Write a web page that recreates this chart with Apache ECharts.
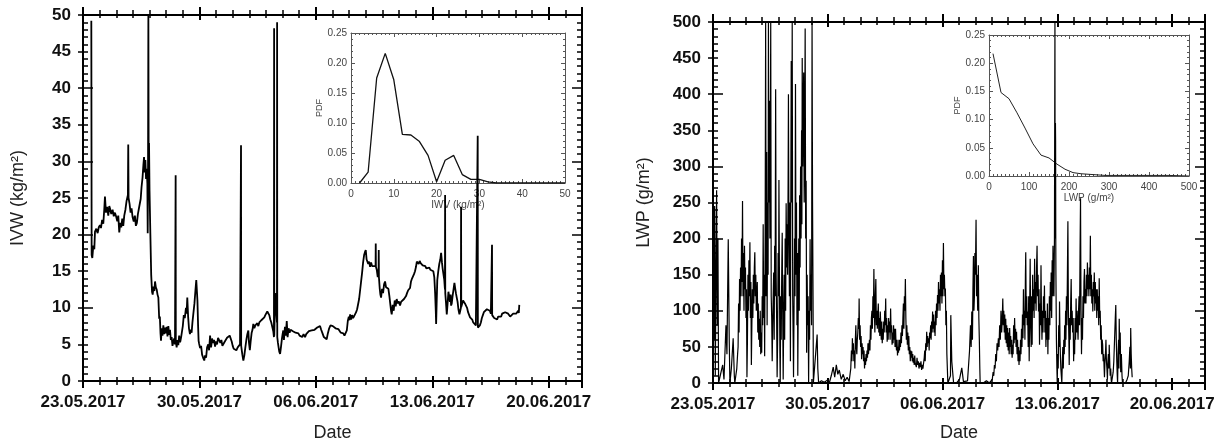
<!DOCTYPE html>
<html>
<head>
<meta charset="utf-8">
<script src="https://cdn.jsdelivr.net/npm/echarts@6/dist/echarts.min.js"></script>
<style>
  html, body { margin: 0; padding: 0; background: #fff; }
  #chart { width: 1221px; height: 447px; }
</style>
</head>
<body>
<div id="chart"></div>
<script>
// Time axis: days since 23.05.2017 00:00; weekly labels
const tickLabels = ['23.05.2017', '30.05.2017', '06.06.2017', '13.06.2017', '20.06.2017'];

// Integrated water vapour time series [day, kg/m²]
const iwvSeries = [
  [0.50, 49.2], [0.52, 17.2], [0.56, 16.8], [0.62, 18.5], [0.68, 18.0], [0.72, 20.4], [0.80, 20.8], [0.88, 20.2],
  [0.95, 21.0], [1.02, 21.3], [1.08, 20.9], [1.15, 22.0], [1.22, 21.5], [1.28, 23.5], [1.32, 25.2], [1.38, 23.0],
  [1.45, 23.8], [1.52, 22.6], [1.58, 23.9], [1.62, 23.6], [1.70, 22.8], [1.78, 23.4], [1.85, 22.5], [1.92, 23.0],
  [2.00, 22.4], [2.06, 21.8], [2.12, 22.6], [2.18, 20.3], [2.24, 21.6], [2.30, 21.0], [2.36, 22.2], [2.42, 21.2],
  [2.48, 22.6], [2.55, 23.4], [2.62, 24.6], [2.70, 25.4], [2.72, 32.3], [2.74, 25.0], [2.80, 24.2], [2.86, 23.0],
  [2.92, 23.6], [2.98, 22.4], [3.05, 21.8], [3.12, 22.6], [3.18, 21.2], [3.24, 21.6], [3.30, 22.8], [3.38, 23.8],
  [3.47, 24.9], [3.52, 26.5], [3.58, 27.8], [3.63, 29.5], [3.67, 30.6], [3.71, 28.5], [3.75, 30.2], [3.79, 27.6],
  [3.83, 29.0], [3.87, 27.0], [3.89, 20.2], [3.91, 28.5], [3.93, 50.0], [3.95, 27.2], [3.97, 32.5], [4.00, 26.0],
  [4.05, 20.0], [4.10, 14.5], [4.15, 12.2], [4.19, 11.8], [4.24, 12.9], [4.29, 12.3], [4.33, 13.6], [4.38, 12.8],
  [4.43, 12.5], [4.48, 11.8], [4.53, 11.4], [4.58, 8.5], [4.62, 8.8], [4.66, 6.5], [4.69, 5.5], [4.73, 7.2],
  [4.78, 6.2], [4.83, 7.6], [4.88, 6.4], [4.93, 7.3], [4.98, 6.5], [5.03, 7.4], [5.08, 6.1], [5.13, 7.5],
  [5.18, 6.3], [5.23, 7.0], [5.28, 5.6], [5.33, 6.0], [5.38, 4.8], [5.43, 4.6], [5.48, 5.8], [5.53, 5.0],
  [5.56, 5.2], [5.57, 28.1], [5.58, 5.4], [5.63, 4.6], [5.68, 5.6], [5.73, 4.9], [5.78, 6.2], [5.84, 5.3],
  [5.90, 6.0], [5.94, 6.0], [6.00, 7.5], [6.06, 9.0], [6.12, 8.6], [6.19, 10.0], [6.23, 9.2], [6.27, 11.4],
  [6.32, 8.8], [6.37, 7.2], [6.43, 6.4], [6.48, 7.0], [6.53, 6.6], [6.58, 8.0], [6.63, 9.1], [6.70, 10.6],
  [6.76, 12.4], [6.81, 13.8], [6.84, 13.6], [6.88, 11.0], [6.92, 7.5], [6.95, 5.5], [6.98, 5.1], [7.04, 4.5],
  [7.10, 4.8], [7.16, 3.6], [7.22, 3.2], [7.29, 2.8], [7.34, 3.5], [7.40, 3.2], [7.46, 4.6], [7.53, 5.0],
  [7.58, 4.2], [7.64, 6.2], [7.70, 4.6], [7.76, 5.8], [7.82, 5.2], [7.88, 5.6], [7.94, 4.7], [8.00, 5.4],
  [8.06, 5.0], [8.12, 5.9], [8.20, 6.0], [8.26, 5.2], [8.32, 5.6], [8.38, 4.8], [8.44, 4.6], [8.50, 5.3],
  [8.58, 5.6], [8.66, 5.9], [8.74, 6.1], [8.82, 6.2], [8.88, 6.0], [8.94, 5.4], [9.00, 4.8], [9.06, 4.4],
  [9.14, 4.4], [9.22, 4.2], [9.30, 4.6], [9.38, 4.8], [9.44, 5.0], [9.49, 4.9], [9.50, 32.2], [9.51, 4.8],
  [9.58, 3.6], [9.64, 2.8], [9.70, 3.5], [9.76, 4.6], [9.82, 5.6], [9.88, 6.4], [9.94, 6.9], [9.98, 5.2],
  [10.03, 4.2], [10.08, 5.4], [10.14, 6.6], [10.19, 7.0], [10.24, 7.8], [10.30, 7.2], [10.36, 7.6], [10.42, 7.5],
  [10.48, 7.9], [10.54, 7.5], [10.60, 8.0], [10.66, 7.8], [10.72, 8.3], [10.78, 8.1], [10.84, 8.4], [10.90, 8.7],
  [10.96, 9.0], [11.02, 9.2], [11.08, 9.5], [11.14, 9.6], [11.20, 9.0], [11.26, 8.4], [11.32, 8.0], [11.38, 7.8],
  [11.44, 6.8], [11.48, 6.0], [11.49, 48.2], [11.50, 6.2], [11.55, 12.0], [11.62, 11.8], [11.66, 8.0], [11.67, 49.0],
  [11.68, 6.0], [11.72, 5.2], [11.76, 4.6], [11.80, 4.0], [11.85, 3.7], [11.90, 4.6], [11.96, 5.8], [12.00, 6.4],
  [12.04, 6.9], [12.08, 5.6], [12.14, 7.4], [12.19, 6.2], [12.25, 8.2], [12.30, 6.0], [12.36, 7.2], [12.42, 6.6],
  [12.48, 7.0], [12.55, 6.9], [12.62, 6.8], [12.70, 7.0], [12.78, 6.6], [12.86, 6.8], [12.95, 6.5], [13.02, 6.2],
  [13.10, 6.3], [13.18, 6.0], [13.26, 6.4], [13.35, 6.0], [13.42, 6.4], [13.50, 6.6], [13.58, 6.8], [13.66, 6.7],
  [13.75, 6.9], [13.84, 6.8], [13.92, 7.0], [14.00, 7.2], [14.08, 7.3], [14.16, 7.2], [14.25, 7.5], [14.32, 7.0],
  [14.40, 6.5], [14.48, 6.0], [14.56, 5.8], [14.65, 5.7], [14.72, 6.5], [14.80, 7.2], [14.88, 7.6], [14.95, 7.8],
  [15.02, 7.5], [15.10, 7.6], [15.18, 7.2], [15.26, 7.4], [15.35, 7.1], [15.42, 6.9], [15.50, 6.6], [15.58, 6.4],
  [15.65, 6.5], [15.72, 6.2], [15.80, 6.6], [15.86, 6.9], [15.92, 8.2], [15.98, 8.8], [16.02, 8.3], [16.06, 9.1],
  [16.12, 8.4], [16.18, 9.0], [16.24, 8.6], [16.30, 8.8], [16.36, 8.7], [16.42, 9.4], [16.48, 9.8], [16.55, 10.0],
  [16.60, 11.2], [16.66, 12.4], [16.72, 13.6], [16.78, 14.8], [16.84, 16.2], [16.90, 17.2], [16.95, 17.6], [17.00, 17.9],
  [17.05, 16.6], [17.10, 16.8], [17.15, 16.0], [17.20, 16.3], [17.26, 15.6], [17.32, 16.2], [17.38, 15.7], [17.44, 15.9],
  [17.50, 15.8], [17.59, 15.7], [17.60, 18.8], [17.61, 15.6], [17.66, 15.2], [17.72, 14.2], [17.77, 14.6], [17.78, 17.9],
  [17.79, 14.2], [17.84, 12.6], [17.88, 11.8], [17.92, 11.4], [17.98, 12.6], [18.04, 12.0], [18.10, 13.2], [18.16, 13.6],
  [18.22, 12.8], [18.28, 13.0], [18.36, 12.6], [18.42, 11.6], [18.48, 10.4], [18.52, 9.6], [18.56, 9.1], [18.62, 10.4],
  [18.68, 9.6], [18.74, 11.0], [18.80, 10.2], [18.86, 11.2], [18.92, 10.6], [18.98, 10.9], [19.06, 10.3], [19.12, 10.8],
  [19.18, 11.0], [19.24, 10.8], [19.30, 11.2], [19.36, 11.4], [19.42, 11.6], [19.48, 12.0], [19.55, 12.4], [19.60, 12.2],
  [19.66, 12.7], [19.72, 13.6], [19.78, 14.0], [19.84, 14.3], [19.90, 14.6], [19.96, 15.0], [20.02, 15.6], [20.07, 16.3],
  [20.12, 16.5], [20.18, 16.0], [20.24, 16.4], [20.30, 16.1], [20.36, 16.0], [20.42, 15.8], [20.46, 15.9], [20.52, 15.6],
  [20.58, 15.7], [20.64, 15.4], [20.70, 15.6], [20.76, 15.3], [20.82, 15.5], [20.88, 15.2], [20.94, 15.3], [21.00, 15.0],
  [21.06, 15.0], [21.12, 14.2], [21.17, 12.0], [21.21, 9.5], [21.23, 7.8], [21.26, 10.5], [21.30, 13.8], [21.36, 15.0],
  [21.42, 16.0], [21.48, 16.6], [21.53, 17.5], [21.58, 16.2], [21.62, 15.4], [21.67, 14.6], [21.72, 13.8], [21.76, 12.5],
  [21.77, 25.4], [21.78, 12.0], [21.82, 10.8], [21.87, 9.1], [21.92, 10.6], [21.97, 12.2], [22.01, 12.0], [22.06, 10.8],
  [22.10, 11.8], [22.13, 10.3], [22.17, 10.6], [22.22, 11.6], [22.27, 12.4], [22.33, 13.4], [22.38, 12.6], [22.42, 12.0],
  [22.47, 11.4], [22.52, 10.8], [22.57, 9.8], [22.63, 9.1], [22.68, 9.6], [22.72, 10.0], [22.73, 23.8], [22.74, 10.1],
  [22.79, 10.3], [22.85, 11.0], [22.90, 11.2], [22.96, 10.6], [23.03, 10.8], [23.09, 10.0], [23.15, 9.4], [23.21, 9.2],
  [23.27, 8.7], [23.33, 8.8], [23.40, 8.4], [23.46, 8.0], [23.52, 7.9], [23.57, 7.8], [23.62, 7.6], [23.68, 7.4],
  [23.72, 7.5], [23.73, 33.5], [23.74, 7.3], [23.80, 7.2], [23.86, 7.6], [23.92, 8.0], [23.98, 8.6], [24.04, 9.0],
  [24.10, 9.4], [24.16, 9.3], [24.22, 9.6], [24.28, 9.8], [24.34, 9.6], [24.40, 9.8], [24.46, 9.6], [24.52, 9.2],
  [24.58, 9.0], [24.59, 18.6], [24.60, 9.0], [24.66, 8.8], [24.72, 8.6], [24.78, 8.4], [24.84, 8.6], [24.90, 8.4],
  [24.96, 8.8], [25.02, 8.6], [25.08, 9.0], [25.14, 8.8], [25.20, 9.2], [25.26, 9.4], [25.32, 9.2], [25.38, 9.4],
  [25.44, 9.6], [25.50, 9.4], [25.56, 9.2], [25.62, 9.0], [25.68, 8.8], [25.74, 8.9], [25.80, 9.0], [25.86, 9.2],
  [25.92, 9.0], [25.98, 9.4], [26.04, 9.2], [26.10, 9.4], [26.16, 9.6], [26.20, 9.3], [26.23, 10.4]
];

// Liquid water path time series [day, g/m²]
const lwpSeries = [
  [0.02, 230], [0.06, 60], [0.10, 245], [0.14, 10], [0.18, 150], [0.22, 267], [0.26, 80], [0.30, 200], [0.34, 0],
  [0.42, 0], [0.59, 25], [0.67, 5], [0.79, 80], [0.85, 40], [0.93, 199], [0.99, 60], [1.03, 0], [1.12, 20],
  [1.23, 62], [1.30, 10], [1.33, 0], [1.45, 20],
  [1.50, 40], [1.53, 50], [1.56, 110], [1.59, 70], [1.62, 144], [1.65, 100], [1.68, 160], [1.71, 120], [1.74, 200],
  [1.77, 140], [1.80, 252], [1.83, 120], [1.86, 180], [1.89, 100], [1.92, 190], [1.95, 130], [1.98, 160], [2.01, 90],
  [2.04, 130], [2.07, 8], [2.10, 60], [2.13, 150], [2.16, 100], [2.19, 170], [2.22, 120], [2.25, 195], [2.28, 90],
  [2.31, 140], [2.34, 25], [2.37, 80], [2.40, 130], [2.43, 90], [2.46, 150], [2.49, 110], [2.52, 160], [2.55, 181],
  [2.58, 120], [2.61, 150], [2.64, 100], [2.67, 112], [2.70, 140], [2.73, 70], [2.76, 110], [2.79, 60], [2.82, 89],
  [2.85, 50], [2.88, 100], [2.91, 40], [2.94, 70], [2.97, 42], [3.00, 120], [3.03, 80], [3.06, 220], [3.09, 90],
  [3.12, 150], [3.15, 37], [3.18, 200], [3.21, 500], [3.24, 120], [3.27, 320], [3.30, 80], [3.33, 250], [3.36, 150],
  [3.38, 500], [3.41, 250], [3.44, 391], [3.47, 200], [3.50, 350], [3.52, 500], [3.55, 120], [3.58, 90], [3.61, 30],
  [3.64, 80], [3.67, 120], [3.70, 153], [3.73, 60], [3.76, 190], [3.79, 120], [3.82, 407], [3.85, 150], [3.88, 90],
  [3.91, 8], [3.94, 60], [3.97, 180], [4.00, 120], [4.02, 281], [4.05, 150], [4.08, 40], [4.10, 0], [4.13, 120],
  [4.16, 60], [4.19, 150], [4.22, 208], [4.25, 100], [4.28, 5], [4.31, 90], [4.34, 150], [4.37, 60], [4.40, 200],
  [4.43, 100], [4.46, 249], [4.49, 160], [4.52, 220], [4.55, 150], [4.58, 280], [4.60, 400], [4.63, 200], [4.66, 120],
  [4.69, 250], [4.72, 30], [4.75, 300], [4.77, 446], [4.80, 250], [4.83, 500], [4.86, 120], [4.89, 60], [4.91, 8],
  [4.94, 100], [4.97, 200], [5.00, 120], [5.03, 414], [5.06, 150], [5.09, 250], [5.12, 80], [5.15, 180], [5.17, 10],
  [5.20, 120], [5.23, 200], [5.26, 100], [5.28, 260], [5.31, 160], [5.34, 300], [5.37, 200], [5.40, 350], [5.42, 220],
  [5.44, 450], [5.47, 300], [5.50, 380], [5.53, 430], [5.56, 250], [5.59, 330], [5.62, 491], [5.65, 200], [5.68, 280],
  [5.71, 42], [5.74, 150], [5.77, 80], [5.80, 120], [5.83, 0], [5.86, 100], [5.89, 60], [5.92, 199], [5.95, 100],
  [5.98, 150], [6.01, 80], [6.04, 500], [6.07, 250], [6.10, 120], [6.12, 0],
  [6.24, 0], [6.35, 67], [6.39, 20], [6.44, 0], [6.61, 3], [6.79, 1], [6.97, 4], [7.09, 0],
  [7.21, 10], [7.33, 22], [7.42, 8], [7.52, 25], [7.61, 12], [7.70, 18], [7.82, 5], [7.94, 12], [8.06, 3],
  [8.18, 8], [8.30, 2],
  [8.40, 20], [8.44, 45], [8.47, 30], [8.50, 62], [8.53, 40], [8.56, 55], [8.59, 30], [8.62, 45], [8.65, 20],
  [8.68, 60], [8.71, 80], [8.74, 50], [8.77, 40], [8.80, 60], [8.83, 70], [8.86, 90], [8.89, 75], [8.91, 117],
  [8.94, 60], [8.97, 80], [9.00, 50], [9.03, 65], [9.06, 33], [9.09, 55], [9.12, 40], [9.15, 50], [9.18, 30],
  [9.21, 45], [9.24, 20], [9.27, 35], [9.30, 25], [9.33, 40], [9.36, 30], [9.39, 45], [9.42, 35], [9.45, 55],
  [9.48, 40], [9.51, 38], [9.54, 60], [9.57, 45], [9.60, 80], [9.63, 60], [9.66, 90], [9.69, 100], [9.72, 75],
  [9.75, 120], [9.78, 90], [9.81, 158], [9.84, 100], [9.87, 70], [9.90, 120], [9.93, 144], [9.96, 80], [9.99, 100],
  [10.02, 75], [10.05, 95], [10.08, 110], [10.11, 70], [10.14, 90], [10.17, 65], [10.20, 99], [10.23, 80], [10.26, 60],
  [10.29, 85], [10.32, 55], [10.35, 75], [10.38, 60], [10.41, 85], [10.44, 70], [10.47, 100], [10.50, 80], [10.53, 117],
  [10.56, 70], [10.59, 90], [10.62, 57], [10.65, 80], [10.68, 60], [10.71, 90], [10.74, 70], [10.77, 85], [10.80, 60],
  [10.83, 103], [10.86, 70], [10.89, 80], [10.92, 53], [10.95, 70], [10.98, 55], [11.01, 80], [11.04, 60], [11.07, 75],
  [11.10, 50], [11.13, 75], [11.16, 55], [11.19, 45], [11.22, 60], [11.25, 38], [11.28, 50], [11.31, 42], [11.34, 60],
  [11.37, 45], [11.40, 60], [11.43, 50], [11.46, 70], [11.49, 55], [11.52, 80], [11.55, 65], [11.58, 90], [11.61, 110],
  [11.64, 75], [11.67, 120], [11.70, 100], [11.73, 144], [11.76, 90], [11.79, 60], [11.82, 80], [11.85, 53], [11.88, 70],
  [11.91, 45], [11.94, 65], [11.97, 40], [12.00, 50], [12.03, 30], [12.06, 45], [12.09, 35], [12.12, 44], [12.15, 30],
  [12.18, 40], [12.21, 28], [12.24, 35], [12.27, 25], [12.30, 38], [12.33, 28], [12.36, 30], [12.40, 22], [12.44, 35],
  [12.48, 25], [12.52, 30], [12.56, 20], [12.60, 28], [12.64, 22], [12.68, 30], [12.72, 18], [12.76, 25], [12.80, 20],
  [12.84, 21], [12.88, 35], [12.91, 45], [12.94, 30], [12.97, 55], [13.00, 45], [13.03, 71], [13.06, 50], [13.09, 65],
  [13.12, 55], [13.15, 62], [13.18, 45], [13.21, 70], [13.24, 62], [13.27, 80], [13.30, 60], [13.33, 85], [13.36, 70],
  [13.39, 99], [13.42, 75], [13.45, 95], [13.48, 70], [13.51, 85], [13.54, 65], [13.57, 100], [13.60, 80], [13.63, 110],
  [13.66, 90], [13.69, 122], [13.72, 100], [13.75, 140], [13.78, 110], [13.81, 130], [13.84, 100], [13.87, 150], [13.90, 120],
  [13.93, 153], [13.96, 110], [13.99, 170], [14.02, 120], [14.05, 194], [14.08, 130], [14.11, 150], [14.14, 120], [14.17, 131],
  [14.20, 80], [14.23, 100], [14.26, 40], [14.29, 20], [14.32, 0],
  [14.40, 0], [14.48, 10], [14.50, 94], [14.56, 30], [14.67, 0], [14.85, 0], [15.03, 5], [15.17, 21], [15.27, 2],
  [15.39, 0], [15.52, 3],
  [15.64, 44], [15.70, 80], [15.74, 50], [15.78, 99], [15.82, 60], [15.85, 130], [15.88, 176], [15.91, 100], [15.94, 120],
  [15.97, 180], [16.00, 150], [16.04, 226], [16.07, 120], [16.10, 150], [16.14, 100], [16.18, 163], [16.21, 90], [16.24, 60],
  [16.27, 20], [16.29, 0],
  [16.48, 0], [16.67, 3], [16.85, 0],
  [17.03, 5], [17.08, 15], [17.12, 10], [17.16, 25], [17.20, 20], [17.24, 40], [17.28, 30], [17.32, 55], [17.36, 45],
  [17.40, 62], [17.44, 50], [17.48, 80], [17.52, 60], [17.56, 100], [17.60, 70], [17.64, 90], [17.67, 117], [17.70, 80],
  [17.73, 100], [17.76, 70], [17.79, 95], [17.82, 60], [17.85, 89], [17.88, 55], [17.91, 80], [17.94, 50], [17.97, 76],
  [18.00, 45], [18.03, 70], [18.06, 40], [18.09, 76], [18.12, 50], [18.15, 65], [18.18, 40], [18.21, 60], [18.24, 35],
  [18.27, 53], [18.30, 40], [18.33, 80], [18.36, 55], [18.39, 90], [18.42, 60], [18.45, 75], [18.48, 50], [18.51, 71],
  [18.54, 40], [18.57, 60], [18.60, 30], [18.63, 50], [18.66, 25], [18.69, 45], [18.72, 30], [18.75, 60], [18.78, 40],
  [18.81, 75], [18.84, 50], [18.87, 95], [18.90, 62], [18.93, 130], [18.96, 80], [18.99, 100], [19.02, 60], [19.05, 150],
  [19.07, 181], [19.10, 90], [19.13, 120], [19.16, 80], [19.19, 99], [19.22, 50], [19.25, 120], [19.28, 30], [19.31, 100],
  [19.34, 172], [19.37, 80], [19.40, 50], [19.43, 120], [19.46, 53], [19.49, 150], [19.52, 100], [19.55, 130], [19.58, 90],
  [19.61, 172], [19.64, 110], [19.67, 140], [19.70, 100], [19.73, 160], [19.76, 190], [19.79, 120], [19.82, 150], [19.85, 99],
  [19.88, 130], [19.91, 53], [19.94, 110], [19.97, 80], [20.00, 163], [20.03, 90], [20.06, 60], [20.09, 100], [20.12, 70],
  [20.15, 120], [20.18, 90], [20.21, 135], [20.24, 70], [20.27, 100], [20.30, 50], [20.33, 90], [20.36, 60], [20.39, 110],
  [20.42, 40], [20.45, 90], [20.48, 60], [20.51, 120], [20.54, 80], [20.57, 140], [20.60, 100], [20.62, 153], [20.65, 90],
  [20.68, 170], [20.71, 120], [20.73, 190], [20.76, 150], [20.79, 120], [20.82, 200], [20.85, 500], [20.86, 250], [20.87, 200],
  [20.88, 360], [20.89, 336], [20.90, 200], [20.91, 150], [20.94, 60], [20.97, 20], [20.99, 0], [21.02, 40], [21.05, 20],
  [21.08, 80], [21.11, 50], [21.13, 113], [21.16, 60], [21.18, 40], [21.21, 20], [21.24, 10], [21.27, 0], [21.30, 30],
  [21.33, 50], [21.36, 20], [21.39, 60], [21.42, 40], [21.44, 80], [21.47, 50], [21.50, 100], [21.52, 60], [21.55, 120],
  [21.58, 80], [21.61, 150], [21.64, 224], [21.67, 100], [21.70, 60], [21.72, 25], [21.75, 90], [21.78, 60], [21.81, 110],
  [21.84, 144], [21.87, 80], [21.90, 100], [21.93, 70], [21.96, 90], [21.99, 30], [22.02, 60], [22.05, 40], [22.08, 90],
  [22.11, 60], [22.14, 117], [22.17, 70], [22.20, 100], [22.23, 80], [22.26, 60], [22.29, 100], [22.32, 120], [22.35, 80],
  [22.38, 180], [22.41, 256], [22.44, 100], [22.47, 40], [22.50, 90], [22.53, 60], [22.56, 120], [22.59, 90], [22.62, 140],
  [22.65, 158], [22.68, 110], [22.71, 130], [22.74, 110], [22.77, 150], [22.80, 120], [22.83, 167], [22.86, 130], [22.89, 150],
  [22.92, 120], [22.95, 160], [22.98, 130], [23.01, 204], [23.04, 120], [23.07, 150], [23.10, 110], [23.13, 130], [23.16, 99],
  [23.19, 140], [23.22, 120], [23.25, 153], [23.28, 100], [23.31, 140], [23.34, 110], [23.37, 130], [23.40, 90], [23.43, 130],
  [23.46, 100], [23.49, 120], [23.52, 80], [23.55, 145], [23.58, 90], [23.61, 100], [23.64, 60], [23.67, 80], [23.70, 40],
  [23.73, 60], [23.76, 53], [23.79, 30], [23.82, 40], [23.85, 20], [23.87, 8], [23.90, 30], [23.93, 40], [23.96, 60],
  [23.99, 30], [24.02, 20], [24.05, 5], [24.08, 30], [24.11, 40], [24.14, 20], [24.16, 53], [24.19, 30], [24.22, 10],
  [24.25, 20], [24.28, 5], [24.30, 0], [24.35, 0], [24.40, 15], [24.44, 30], [24.47, 50], [24.50, 70], [24.53, 90],
  [24.56, 108], [24.59, 60], [24.62, 30], [24.65, 10], [24.67, 0], [24.70, 40], [24.73, 60], [24.75, 20], [24.77, 89],
  [24.80, 40], [24.83, 70], [24.86, 15], [24.90, 40], [24.94, 10], [24.97, 0], [25.05, 0], [25.15, 0], [25.25, 5],
  [25.32, 10], [25.38, 30], [25.42, 50], [25.45, 20], [25.47, 76], [25.50, 40], [25.53, 20], [25.56, 8]
];

// Probability density of IWV (bin centre, PDF)
const iwvPdfBins = [2, 4, 6, 8, 10, 12, 14, 16, 18, 20, 22, 24, 26, 28, 30, 32, 34, 36, 38, 40, 42, 44, 46, 48, 50];
const iwvPdf = [0.000, 0.018, 0.175, 0.216, 0.172, 0.081, 0.080, 0.069, 0.046, 0.002, 0.038, 0.046, 0.014, 0.006, 0.006, 0.002, 0.000, 0.000, 0.000, 0.000, 0.000, 0.000, 0.000, 0.000, 0.000];

// Probability density of LWP (bin centre, PDF)
const lwpPdfBins = [10, 30, 50, 70, 90, 110, 130, 150, 170, 190, 210, 230, 250, 270, 290, 310, 350, 400, 450, 500];
const lwpPdf = [0.217, 0.148, 0.137, 0.112, 0.085, 0.057, 0.037, 0.032, 0.021, 0.012, 0.006, 0.004, 0.003, 0.002, 0.001, 0.001, 0.001, 0.001, 0.001, 0.000];

const FONT = '"Liberation Sans", Arial, sans-serif';
const BLACK = '#000';

function dateLabel(v) {
  return v % 7 === 0 ? (tickLabels[v / 7] || '') : '';
}

// Eight overlapping x axes per panel: weekly/daily ticks, inside and outside, bottom and top
function dateAxes(g, nameGap) {
  const base = {
    gridIndex: g, type: 'value', min: 0, max: 30,
    splitLine: { show: false },
    axisLine: { show: false, onZero: false },
    axisLabel: { show: false }
  };
  const tick = (inside, length, width) => ({ show: true, inside, length, lineStyle: { color: BLACK, width } });
  return [
    Object.assign({}, base, {
      position: 'bottom', interval: 7,
      axisLine: { show: true, onZero: false, lineStyle: { color: BLACK, width: 2 } },
      axisTick: tick(true, 5, 2),
      axisLabel: { show: true, formatter: dateLabel, margin: 13, fontSize: 17, fontWeight: 'bold', color: '#111', fontFamily: FONT },
      name: 'Date', nameLocation: 'middle', nameGap,
      nameTextStyle: { fontSize: 18, color: '#222', fontFamily: FONT }
    }),
    Object.assign({}, base, { position: 'bottom', interval: 7, axisTick: tick(false, 7, 2) }),
    Object.assign({}, base, { position: 'bottom', interval: 1, axisTick: tick(true, 4, 1.5) }),
    Object.assign({}, base, { position: 'bottom', interval: 1, axisTick: tick(false, 4, 1.5) }),
    Object.assign({}, base, {
      position: 'top', interval: 7,
      axisLine: { show: true, onZero: false, lineStyle: { color: BLACK, width: 2 } },
      axisTick: tick(true, 5, 2)
    }),
    Object.assign({}, base, { position: 'top', interval: 7, axisTick: tick(false, 8, 2) }),
    Object.assign({}, base, { position: 'top', interval: 1, axisTick: tick(true, 3, 1.5) }),
    Object.assign({}, base, { position: 'top', interval: 1, axisTick: tick(false, 5, 1.5) })
  ];
}

// Five overlapping y axes per panel: labelled, minor and major ticks, left and right
function valueAxes(g, max, labelStep, minorStep, majorStep, name, nameGap) {
  const base = {
    gridIndex: g, type: 'value', min: 0, max,
    splitLine: { show: false },
    axisLine: { show: false, onZero: false },
    axisLabel: { show: false }
  };
  const tick = (inside, length, width) => ({ show: true, inside, length, lineStyle: { color: BLACK, width } });
  return [
    Object.assign({}, base, {
      position: 'left', interval: labelStep,
      axisLine: { show: true, onZero: false, lineStyle: { color: BLACK, width: 2 } },
      axisTick: tick(false, 5, 1.5),
      axisLabel: { show: true, margin: 12, fontSize: 17, fontWeight: 'bold', color: '#111', fontFamily: FONT },
      name, nameLocation: 'middle', nameGap,
      nameTextStyle: { fontSize: 18, color: '#222', fontFamily: FONT }
    }),
    Object.assign({}, base, { position: 'left', interval: minorStep, axisTick: tick(true, 5, 1.5) }),
    Object.assign({}, base, { position: 'left', interval: majorStep, axisTick: tick(true, 10, 1.5) }),
    Object.assign({}, base, {
      position: 'right', interval: minorStep,
      axisLine: { show: true, onZero: false, lineStyle: { color: BLACK, width: 2 } },
      axisTick: tick(true, 5, 1.5)
    }),
    Object.assign({}, base, { position: 'right', interval: majorStep, axisTick: tick(true, 10, 1.5) })
  ];
}

const INSET = '#555';
const insetLabel = { show: true, fontSize: 10, color: '#444', fontFamily: FONT };

function insetX(g, max, step, name, nameGap) {
  const common = {
    gridIndex: g, type: 'value', min: 0, max, interval: step,
    splitLine: { show: false },
    axisLine: { show: true, onZero: false, lineStyle: { color: INSET, width: 1 } },
    axisTick: { show: true, inside: true, length: 4, lineStyle: { color: INSET, width: 1 } },
    minorTick: { show: true, splitNumber: 10, length: 2, lineStyle: { color: INSET, width: 1 } }
  };
  return [
    Object.assign({}, common, {
      position: 'bottom',
      axisLabel: Object.assign({}, insetLabel, { margin: 6 }),
      name, nameLocation: 'middle', nameGap,
      nameTextStyle: { fontSize: 10, color: '#444', fontFamily: FONT }
    }),
    Object.assign({}, common, { position: 'top', axisLabel: { show: false } })
  ];
}

function insetY(g, nameGap) {
  const common = {
    gridIndex: g, type: 'value', min: 0, max: 0.25, interval: 0.05,
    splitLine: { show: false },
    axisLine: { show: true, onZero: false, lineStyle: { color: INSET, width: 1 } },
    axisTick: { show: true, inside: true, length: 4, lineStyle: { color: INSET, width: 1 } },
    minorTick: { show: true, splitNumber: 5, length: 2, lineStyle: { color: INSET, width: 1 } }
  };
  return [
    Object.assign({}, common, {
      position: 'left',
      axisLabel: Object.assign({}, insetLabel, { margin: 4, formatter: v => v.toFixed(2) }),
      name: 'PDF', nameLocation: 'middle', nameGap,
      nameTextStyle: { fontSize: 9, color: '#444', fontFamily: FONT }
    }),
    Object.assign({}, common, { position: 'right', axisLabel: { show: false } })
  ];
}

const xAxes = [].concat(
  dateAxes(0, 43),                                   // 0..7
  dateAxes(1, 41),                                   // 8..15
  insetX(2, 50, 10, 'IWV (kg/m²)', 15),              // 16,17
  insetX(3, 500, 100, 'LWP (g/m²)', 15)              // 18,19
);
const yAxes = [].concat(
  valueAxes(0, 50, 5, 1, 10, 'IVW (kg/m²)', 56),     // 0..4
  valueAxes(1, 500, 50, 10, 100, 'LWP (g/m²)', 60),  // 5..9
  insetY(2, 26),                                     // 10,11
  insetY(3, 26)                                      // 12,13
);

const chart = echarts.init(document.getElementById('chart'), null, { renderer: 'canvas' });
chart.setOption({
  animation: false,
  backgroundColor: '#fff',
  grid: [
    { left: 83, top: 15, width: 499, height: 369 },
    { left: 713, top: 22, width: 492, height: 365 },
    { left: 351, top: 33, width: 214, height: 150 },
    { left: 989, top: 35, width: 200, height: 141 }
  ],
  xAxis: xAxes,
  yAxis: yAxes,
  series: [
    {
      type: 'line', xAxisIndex: 16, yAxisIndex: 10, showSymbol: false, z: 3,
      data: iwvPdfBins.map((b, i) => [b, iwvPdf[i]]),
      lineStyle: { color: '#111', width: 1.3 }
    },
    {
      type: 'line', xAxisIndex: 18, yAxisIndex: 12, showSymbol: false, z: 3,
      data: lwpPdfBins.map((b, i) => [b, lwpPdf[i]]),
      lineStyle: { color: '#222', width: 1 }
    },
    {
      type: 'line', xAxisIndex: 0, yAxisIndex: 0, showSymbol: false, z: 4, clip: true,
      data: iwvSeries,
      lineStyle: { color: BLACK, width: 1.8 }
    },
    {
      type: 'line', xAxisIndex: 8, yAxisIndex: 5, showSymbol: false, z: 4, clip: true,
      data: lwpSeries,
      lineStyle: { color: BLACK, width: 1.2 }
    }
  ]
});
</script>
</body>
</html>
